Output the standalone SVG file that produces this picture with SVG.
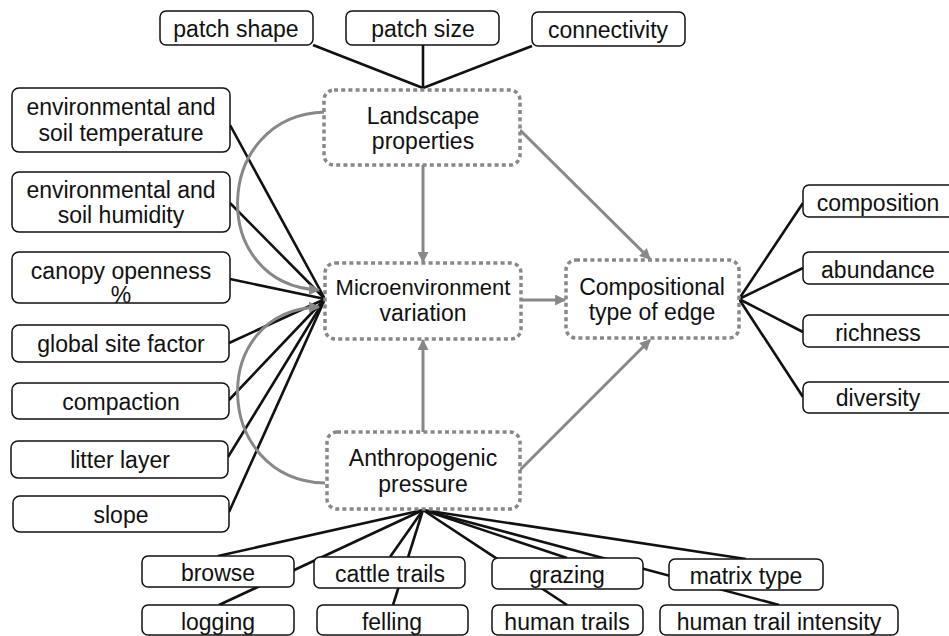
<svg xmlns="http://www.w3.org/2000/svg" width="949" height="636" viewBox="0 0 949 636">
<style>
.box{fill:#fff;stroke:#111;stroke-width:1.5}
.main{fill:#fff;stroke:#888;stroke-width:3.5;stroke-dasharray:4 3.2}
.t{font-family:"Liberation Sans",Arial,sans-serif;font-size:23px;fill:#111;text-anchor:middle}
.s{font-size:22px}
.k{stroke:#111;stroke-width:2.6;fill:none}
.ga{stroke:#888;stroke-width:3;fill:none;marker-end:url(#ah)}
</style>
<defs>
<marker id="ah" viewBox="0 0 10 10" refX="9" refY="5" markerWidth="13" markerHeight="11" markerUnits="userSpaceOnUse" orient="auto">
<path d="M0,0 L10,5 L0,10 z" fill="#888"/>
</marker>
</defs>
<rect width="949" height="636" fill="#fff"/>
<g id="connectors">
<line class="k" x1="313" y1="45" x2="423" y2="88"/>
<line class="k" x1="423" y1="45" x2="423" y2="88"/>
<line class="k" x1="532" y1="46" x2="423" y2="88"/>
<line class="k" x1="230" y1="125" x2="325" y2="299"/>
<line class="k" x1="230" y1="203" x2="325" y2="299"/>
<line class="k" x1="230" y1="279" x2="325" y2="299"/>
<line class="k" x1="229" y1="343" x2="325" y2="299"/>
<line class="k" x1="229" y1="400" x2="325" y2="299"/>
<line class="k" x1="228" y1="457" x2="325" y2="299"/>
<line class="k" x1="229" y1="512" x2="325" y2="299"/>
<line class="k" x1="739" y1="299" x2="803" y2="203"/>
<line class="k" x1="739" y1="299" x2="803" y2="268"/>
<line class="k" x1="739" y1="299" x2="803" y2="332"/>
<line class="k" x1="739" y1="299" x2="803" y2="397"/>
<line class="k" x1="423" y1="510" x2="218" y2="556"/>
<line class="k" x1="423" y1="510" x2="219" y2="605"/>
<line class="k" x1="423" y1="510" x2="390" y2="557"/>
<line class="k" x1="423" y1="510" x2="393" y2="605"/>
<line class="k" x1="423" y1="510" x2="567" y2="558"/>
<line class="k" x1="423" y1="510" x2="567" y2="605"/>
<line class="k" x1="423" y1="510" x2="746" y2="559"/>
<line class="k" x1="423" y1="510" x2="779" y2="605"/>
<path class="ga" d="M325,112 C212,115 207,285 319,290"/>
<path class="ga" d="M325,483 C212,480 207,310 319,307"/>
<line class="ga" x1="423" y1="165" x2="423" y2="262"/>
<line class="ga" x1="423" y1="432" x2="423" y2="340"/>
<line class="ga" x1="522" y1="300" x2="565" y2="300"/>
<line class="ga" x1="520" y1="130" x2="650" y2="259"/>
<line class="ga" x1="520" y1="470" x2="650" y2="340"/>
</g>
<g id="landscape"><rect class="main" x="324" y="90" width="196" height="75" rx="10"/><text class="t" x="423" y="124">Landscape</text><text class="t" x="423" y="149">properties</text></g>
<g id="micro"><rect class="main" x="325" y="263" width="196" height="76" rx="10"/><text class="t s" x="423" y="295">Microenvironment</text><text class="t" x="423" y="321">variation</text></g>
<g id="anthro"><rect class="main" x="327" y="432" width="193" height="77" rx="10"/><text class="t" x="423" y="466">Anthropogenic</text><text class="t" x="423" y="492">pressure</text></g>
<g id="comp"><rect class="main" x="566" y="260" width="173" height="78" rx="10"/><text class="t" x="652" y="295">Compositional</text><text class="t" x="652" y="320">type of edge</text></g>
<g id="patch-shape"><rect class="box" x="160" y="11" width="153" height="34" rx="6"/><text class="t" x="236" y="37">patch shape</text></g>
<g id="patch-size"><rect class="box" x="346" y="11" width="153" height="34" rx="6"/><text class="t" x="423" y="37">patch size</text></g>
<g id="connectivity"><rect class="box" x="532" y="12" width="153" height="34" rx="6"/><text class="t" x="608" y="38">connectivity</text></g>
<g id="env-temp"><rect class="box" x="12" y="88" width="218" height="64" rx="7"/><text class="t" x="121" y="115">environmental and</text><text class="t" x="121" y="141">soil temperature</text></g>
<g id="env-hum"><rect class="box" x="12" y="172" width="218" height="60" rx="7"/><text class="t" x="121" y="198">environmental and</text><text class="t" x="121" y="223">soil humidity</text></g>
<g id="canopy"><rect class="box" x="12" y="252" width="218" height="51" rx="7"/><text class="t" x="121" y="279">canopy openness</text><text class="t" x="121" y="303">%</text></g>
<g id="gsf"><rect class="box" x="12" y="325" width="217" height="37" rx="7"/><text class="t" x="121" y="352">global site factor</text></g>
<g id="compaction"><rect class="box" x="12" y="383" width="217" height="36" rx="7"/><text class="t" x="121" y="410">compaction</text></g>
<g id="litter"><rect class="box" x="11" y="441" width="217" height="37" rx="7"/><text class="t" x="120" y="468">litter layer</text></g>
<g id="slope"><rect class="box" x="13" y="496" width="216" height="36" rx="7"/><text class="t" x="121" y="523">slope</text></g>
<g id="composition"><rect class="box" x="803" y="185" width="153" height="32" rx="6"/><text class="t" x="878" y="211">composition</text></g>
<g id="abundance"><rect class="box" x="803" y="252" width="153" height="32" rx="6"/><text class="t" x="878" y="278">abundance</text></g>
<g id="richness"><rect class="box" x="803" y="315" width="153" height="32" rx="6"/><text class="t" x="878" y="341">richness</text></g>
<g id="diversity"><rect class="box" x="803" y="382" width="153" height="31" rx="6"/><text class="t" x="878" y="406">diversity</text></g>
<g id="browse"><rect class="box" x="142" y="556" width="152" height="31" rx="6"/><text class="t" x="218" y="581">browse</text></g>
<g id="cattle"><rect class="box" x="314" y="557" width="151" height="31" rx="6"/><text class="t" x="390" y="582">cattle trails</text></g>
<g id="grazing"><rect class="box" x="492" y="558" width="151" height="31" rx="6"/><text class="t" x="567" y="583">grazing</text></g>
<g id="matrix"><rect class="box" x="669" y="559" width="154" height="31" rx="6"/><text class="t" x="746" y="584">matrix type</text></g>
<g id="logging"><rect class="box" x="142" y="605" width="152" height="30" rx="6"/><text class="t" x="218" y="630">logging</text></g>
<g id="felling"><rect class="box" x="317" y="605" width="151" height="30" rx="6"/><text class="t" x="392" y="630">felling</text></g>
<g id="human-trails"><rect class="box" x="492" y="605" width="151" height="30" rx="6"/><text class="t" x="567" y="630">human trails</text></g>
<g id="hti"><rect class="box" x="660" y="605" width="238" height="30" rx="6"/><text class="t" x="779" y="630">human trail intensity</text></g>
</svg>
